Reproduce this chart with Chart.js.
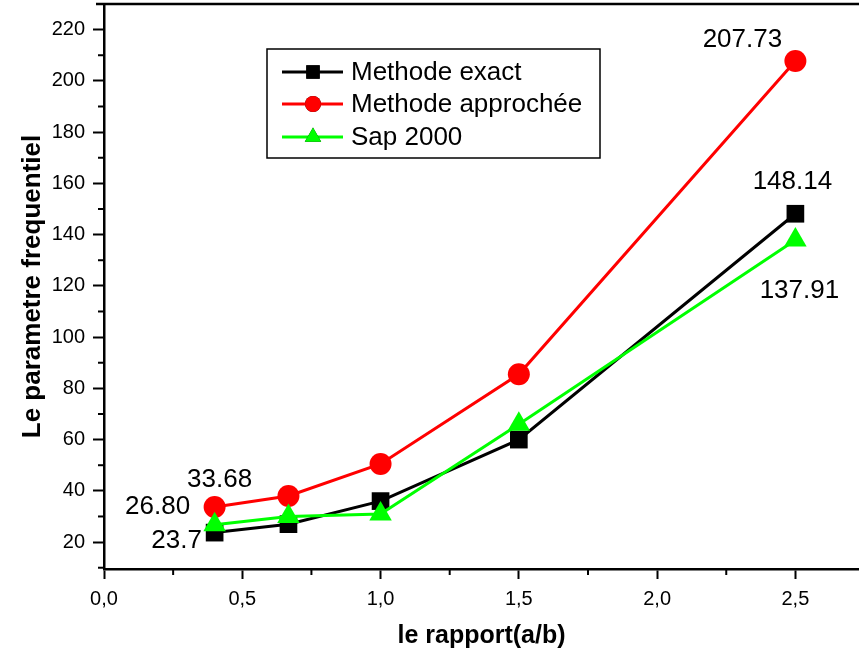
<!DOCTYPE html>
<html>
<head>
<meta charset="utf-8">
<script src="https://cdn.jsdelivr.net/npm/chart.js@4.4.0/dist/chart.umd.min.js"></script>
<style>
  html, body { margin: 0; padding: 0; background: #fff; }
  canvas { display: block; }
</style>
</head>
<body>
<canvas id="chart" width="859" height="656"></canvas>
<script>
// rapport a/b
var ratios = [0.4, 0.667, 1.0, 1.5, 2.5];
// parametre frequentiel
var methodeExact = [23.7, 27, 36, 60, 148.14];
var methodeApprochee = [33.68, 38, 50.5, 85.5, 207.73];
var sap2000 = [26.80, 30, 31, 66, 137.91];

var xTicks = [0, 0.5, 1.0, 1.5, 2.0, 2.5];
var xMinorTicks = [0.25, 0.75, 1.25, 1.75, 2.25];
var yTicks = [20, 40, 60, 80, 100, 120, 140, 160, 180, 200, 220];
var yMinorTicks = [10, 30, 50, 70, 90, 110, 130, 150, 170, 190, 210];

// valeurs ecrites sur le graphe : serie, point, texte
var valueLabels = [
    { ds: 1, i: 0, text: '33.68', dx: 5, dy: -27 },
    { ds: 2, i: 0, text: '26.80', dx: -57, dy: -18 },
    { ds: 0, i: 0, text: '23.7', dx: -38, dy: 8 },
    { ds: 1, i: 4, text: '207.73', dx: -53, dy: -21 },
    { ds: 0, i: 4, text: '148.14', dx: -3, dy: -32 },
    { ds: 2, i: 4, text: '137.91', dx: 4, dy: 51 }
];

var fontMain = "'Liberation Sans', Arial, sans-serif";

function toPoints(values) {
    return values.map(function (v, i) { return { x: ratios[i], y: v }; });
}

// ticks mineurs, cadre du haut, legende et valeurs
var extrasPlugin = {
    id: 'extras',
    afterDraw: function (chart) {
        var ctx = chart.ctx;
        var area = chart.chartArea;
        var xs = chart.scales.x, ys = chart.scales.y;
        ctx.save();
        ctx.strokeStyle = '#000';
        ctx.lineWidth = 2;
        xMinorTicks.forEach(function (v) {
            var px = xs.getPixelForValue(v);
            ctx.beginPath();
            ctx.moveTo(px, area.bottom);
            ctx.lineTo(px, area.bottom + 6);
            ctx.stroke();
        });
        yMinorTicks.forEach(function (v) {
            var py = ys.getPixelForValue(v);
            ctx.beginPath();
            ctx.moveTo(area.left, py);
            ctx.lineTo(area.left - 6, py);
            ctx.stroke();
        });
        // cadre du haut
        ctx.lineWidth = 2.5;
        ctx.beginPath();
        ctx.moveTo(area.left - 8, area.top);
        ctx.lineTo(area.right, area.top);
        ctx.stroke();

        // legende
        ctx.lineWidth = 1.5;
        ctx.strokeRect(267, 49, 333, 109);
        var rows = [72, 104, 137];
        chart.data.datasets.forEach(function (ds, k) {
            var y = rows[k];
            ctx.strokeStyle = ds.borderColor;
            ctx.lineWidth = 3;
            ctx.beginPath();
            ctx.moveTo(282, y);
            ctx.lineTo(343, y);
            ctx.stroke();
            Chart.helpers.drawPoint(ctx, {
                pointStyle: ds.pointStyle,
                radius: ds.pointStyle === 'circle' ? 8 : 9.5,
                borderWidth: 0
            }, 313, y);
            ctx.fillStyle = ds.pointBackgroundColor;
            ctx.fill();
            ctx.fillStyle = '#000';
            ctx.font = '26px ' + fontMain;
            ctx.textAlign = 'left';
            ctx.textBaseline = 'middle';
            ctx.fillText(ds.label, 351, y + 1);
        });

        // valeurs
        ctx.fillStyle = '#000';
        ctx.font = '26px ' + fontMain;
        ctx.textAlign = 'center';
        ctx.textBaseline = 'middle';
        valueLabels.forEach(function (l) {
            var pt = chart.getDatasetMeta(l.ds).data[l.i];
            ctx.fillText(l.text, pt.x + l.dx, pt.y + l.dy);
        });
        ctx.restore();
    }
};

new Chart(document.getElementById('chart'), {
    type: 'line',
    data: {
        datasets: [{
            label: 'Methode exact',
            data: toPoints(methodeExact),
            borderColor: '#000000',
            pointBackgroundColor: '#000000',
            pointBorderColor: '#000000',
            pointStyle: 'rect',
            pointRadius: 12.5,
            order: 2
        }, {
            label: 'Methode approchée',
            data: toPoints(methodeApprochee),
            borderColor: '#ff0000',
            pointBackgroundColor: '#ff0000',
            pointBorderColor: '#ff0000',
            pointStyle: 'circle',
            pointRadius: 11,
            order: 1
        }, {
            label: 'Sap 2000',
            data: toPoints(sap2000),
            borderColor: '#00ff00',
            pointBackgroundColor: '#00ff00',
            pointBorderColor: '#00ff00',
            pointStyle: 'triangle',
            pointRadius: 13,
            order: 0
        }]
    },
    options: {
        responsive: false,
        animation: false,
        layout: { autoPadding: false, padding: { top: 4, left: 0, right: 0, bottom: 0 } },
        elements: {
            line: { borderWidth: 3, tension: 0, fill: false },
            point: { borderWidth: 0, hoverRadius: 11 }
        },
        plugins: {
            legend: { display: false },
            tooltip: { enabled: false }
        },
        scales: {
            x: {
                type: 'linear',
                min: 0,
                max: 2.73,
                afterBuildTicks: function (scale) {
                    scale.ticks = xTicks.map(function (v) { return { value: v }; });
                },
                afterFit: function (scale) {
                    scale.height = 87;
                    scale.paddingLeft = 0;
                    scale.paddingRight = 0;
                },
                ticks: {
                    color: '#000',
                    font: { family: fontMain, size: 20 },
                    padding: 8,
                    maxRotation: 0,
                    callback: function (v) { return v.toFixed(1).replace('.', ','); }
                },
                grid: {
                    drawOnChartArea: false,
                    color: '#000',
                    tickLength: 10,
                    tickWidth: 2
                },
                border: { color: '#000', width: 2.5 },
                title: {
                    display: true,
                    text: 'le rapport(a/b)',
                    color: '#000',
                    font: { family: fontMain, size: 25, weight: 'bold' },
                    padding: { top: 0, bottom: 5 }
                }
            },
            y: {
                min: 9.5,
                max: 230,
                afterBuildTicks: function (scale) {
                    scale.ticks = yTicks.map(function (v) { return { value: v }; });
                },
                afterFit: function (scale) {
                    scale.width = 104;
                    scale.paddingTop = 0;
                    scale.paddingBottom = 0;
                },
                ticks: {
                    color: '#000',
                    font: { family: fontMain, size: 20 },
                    padding: 8
                },
                grid: {
                    drawOnChartArea: false,
                    color: '#000',
                    tickLength: 11,
                    tickWidth: 2
                },
                border: { color: '#000', width: 2.5 },
                title: {
                    display: true,
                    text: 'Le parametre frequentiel',
                    color: '#000',
                    font: { family: fontMain, size: 26, weight: 'bold' },
                    padding: { top: 17, bottom: 0 }
                }
            }
        }
    },
    plugins: [extrasPlugin]
});
</script>
</body>
</html>
